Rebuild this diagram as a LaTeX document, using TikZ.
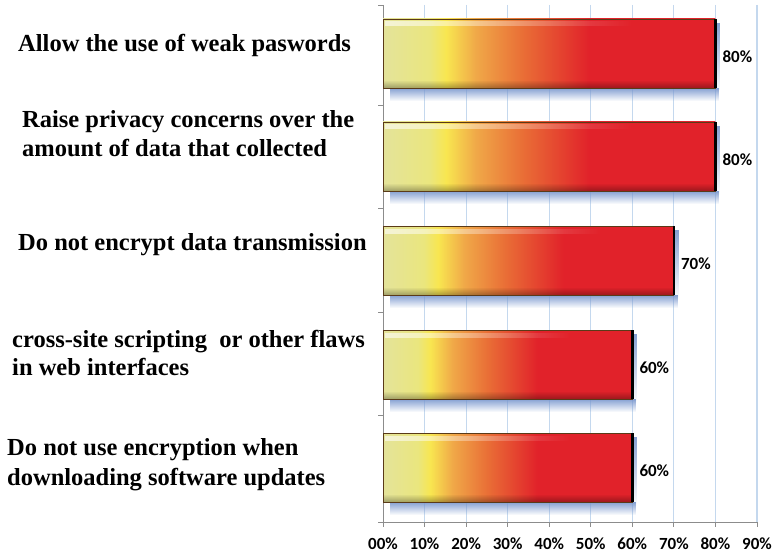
\documentclass[tikz,border=0pt]{standalone}
\usepackage{fontspec}
\setmainfont{Liberation Serif}
\newfontfamily\axisfont{Carlito}
\usetikzlibrary{fadings}

\definecolor{gridblue}{HTML}{C4D8EE}
\definecolor{axisgray}{HTML}{8C8C8C}
\definecolor{barpale}{HTML}{E4E39A}
\definecolor{barpaleb}{HTML}{EAE67E}
\definecolor{baryellow}{HTML}{F8E650}
\definecolor{barorangea}{HTML}{F0A848}
\definecolor{barorangeb}{HTML}{E96E36}
\definecolor{barred}{HTML}{E1222A}
\definecolor{barrimcol}{HTML}{5A3A18}
\definecolor{shadowblue}{HTML}{7896CE}

% bar gradient: the path's bounding box maps onto 25bp..75bp
\pgfdeclarehorizontalshading{barfill}{100bp}{%
  color(0bp)=(barpale); color(25bp)=(barpale); color(32bp)=(barpaleb);
  color(34.5bp)=(baryellow); color(39bp)=(barorangea); color(46bp)=(barorangeb);
  color(56bp)=(barred); color(75bp)=(barred); color(100bp)=(barred)}

\tikzset{
  gridline/.style={gridblue, line width=1.2pt},
  axisline/.style={axisgray, line width=0.8pt},
  barshadow/.style={shadowblue, path fading=south, opacity=0.9},
  gloss/.style={white, path fading=east, opacity=0.6},
  barrim/.style={barrimcol, line width=0.8pt},
  baredge/.style={black, line width=2.6pt},
  pct/.style={anchor=west, inner sep=0, font=\axisfont\bfseries\fontsize{17}{17}\selectfont},
  ticklab/.style={anchor=base, inner sep=0, font=\axisfont\bfseries\fontsize{17}{17}\selectfont},
  cat/.style={anchor=base west, inner sep=0, font=\bfseries\fontsize{24.5}{24.5}\selectfont}
}

\begin{document}
\begin{tikzpicture}[x=1pt,y=-1pt]
\useasboundingbox (0,0) rectangle (774,559);
\fill[white] (0,0) rectangle (774,559);

% vertical gridlines at every 10%
\foreach \i in {1,...,9}
  \draw[gridline] ({383+41.55*\i},5) -- ({383+41.55*\i},522);

% axes with their tick marks
\draw[axisline] (383,5) -- (383,522) -- (757,522);
\foreach \y in {5,105,208,312,415,522}
  \draw[axisline] (378,\y) -- (383,\y);
\foreach \i in {0,...,9}
  \draw[axisline] ({383+41.55*\i},522) -- ({383+41.55*\i},527);

% tick labels
\foreach \i in {0,...,9}
  \node[ticklab] (tick\i) at ({383+41.55*\i},549) {\i0\%};

% bars
\foreach \top/\val/\nm in {19/80/v1, 122/80/v2, 226/70/v3, 330/60/v4, 433/60/v5} {
  \pgfmathsetmacro\xr{383+4.155*\val}
  \pgfmathsetmacro\bot{\top+69}
  \fill[barshadow] (390,\bot) rectangle (\xr+4,\bot+13);
  \fill[barshadow] (\xr,\top+4) rectangle (\xr+5,\bot+4);
  \shade[shading=barfill] (383,\top) rectangle (\xr,\bot);
  \fill[gloss] (385,\top+2.5) rectangle ({383+0.75*(\xr-383)},\top+7.5);
  \fill[black, path fading=north, opacity=0.3] (383,\bot-8) rectangle (\xr,\bot);
  \draw[barrim] (383,\top) rectangle (\xr,\bot);
  \draw[baredge] (\xr,\top) -- (\xr,\bot);
  \node[pct] (\nm) at (\xr+7,\top+38) {\val\%};
}

% category labels
\node[cat] (t1)  at (18,52)  {Allow the use of weak paswords};
\node[cat] (t2a) at (22,128) {Raise privacy concerns over the};
\node[cat] (t2b) at (22,157) {amount of data that collected};
\node[cat] (t3)  at (18,250) {Do not encrypt data transmission};
\node[cat] (t4a) at (12,347) {cross-site scripting\ \ or other flaws};
\node[cat] (t4b) at (12,375) {in web interfaces};
\node[cat] (t5a) at (7,455)  {Do not use encryption when};
\node[cat] (t5b) at (7,485)  {downloading software updates};
\end{tikzpicture}
\end{document}
